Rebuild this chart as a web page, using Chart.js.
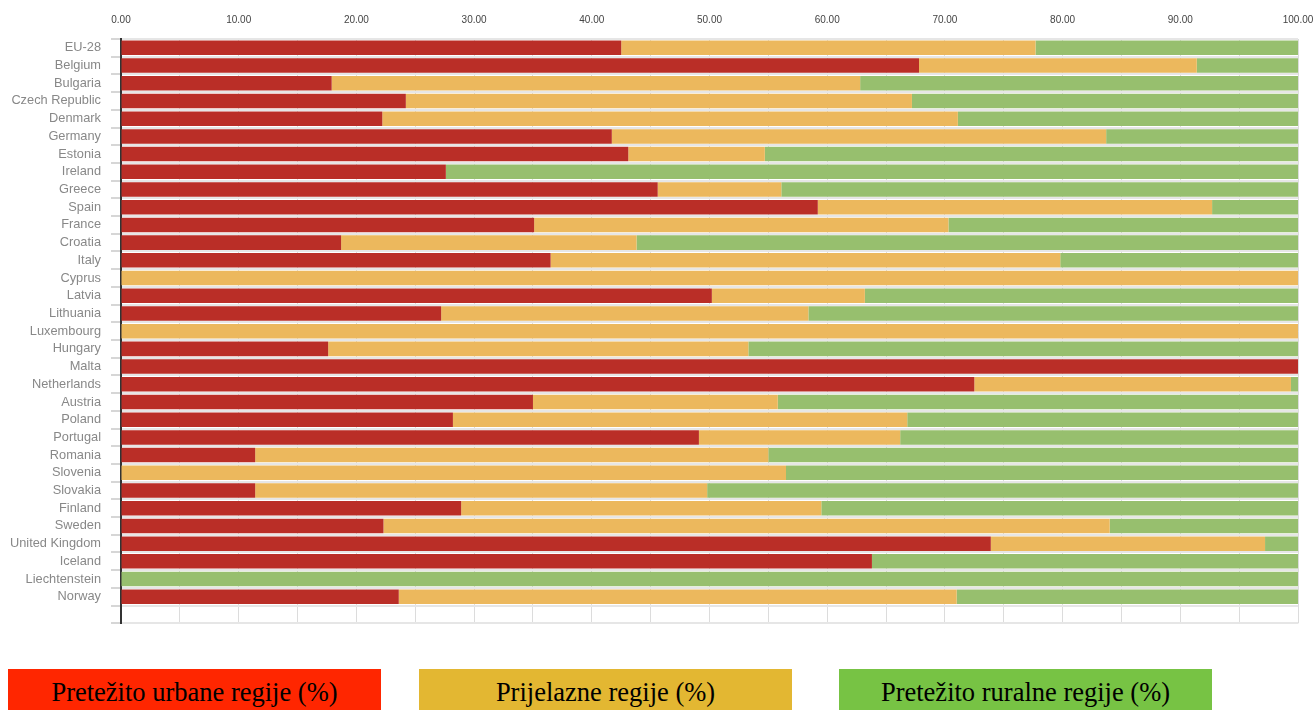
<!DOCTYPE html>
<html>
<head>
<meta charset="utf-8">
<script src="https://cdn.jsdelivr.net/npm/chart.js@4/dist/chart.umd.min.js"></script>
<style>
  html, body { margin: 0; padding: 0; background: #fff; overflow: hidden; }
  #wrap { position: absolute; left: 0; top: 0; width: 1315px; height: 641px; }
  .lg { position: absolute; top: 669px; height: 46px; width: 373px; font-family: "Liberation Serif", "Times New Roman", serif; font-size: 26.5px; color: #000; text-align: center; line-height: 46px; }
</style>
</head>
<body>
<div id="wrap"><canvas id="c" width="1315" height="641"></canvas></div>
<div class="lg" style="left:8px;background:#ff2600;">Pretežito urbane regije (%)</div>
<div class="lg" style="left:419px;background:#e3b732;">Prijelazne regije (%)</div>
<div class="lg" style="left:839px;background:#77c344;">Pretežito ruralne regije (%)</div>
<script>
const countries = ["EU-28","Belgium","Bulgaria","Czech Republic","Denmark","Germany","Estonia","Ireland","Greece","Spain","France","Croatia","Italy","Cyprus","Latvia","Lithuania","Luxembourg","Hungary","Malta","Netherlands","Austria","Poland","Portugal","Romania","Slovenia","Slovakia","Finland","Sweden","United Kingdom","Iceland","Liechtenstein","Norway"];
const urban = [42.5,67.8,17.9,24.2,22.2,41.7,43.1,27.6,45.6,59.2,35.1,18.7,36.5,0,50.2,27.2,0,17.6,100,72.5,35.0,28.2,49.1,11.4,0,11.4,28.9,22.3,73.9,63.8,0,23.6];
const intermediate = [35.2,23.6,44.9,43.0,48.9,42.0,11.6,0,10.5,33.5,35.2,25.1,43.3,100,13.0,31.2,100,35.7,0,26.9,20.8,38.6,17.1,43.6,56.5,38.4,30.6,61.7,23.3,0,0,47.4];
const rural = [22.3,8.6,37.2,32.8,28.9,16.3,45.3,72.4,43.9,7.3,29.7,56.2,20.2,0,36.8,41.6,0,46.7,0,0.6,44.2,33.2,33.8,45.0,43.5,50.2,40.5,16.0,2.8,36.2,100,29.0];
const seriesNames = ["Pretežito urbane regije (%)","Prijelazne regije (%)","Pretežito ruralne regije (%)"];
const tickStep = 5;
const axisMax = 100;

const ds = (label, data, color) => ({
  label, data, backgroundColor: color, borderWidth: 0,
  categoryPercentage: 1.0, barPercentage: 0.82
});

new Chart(document.getElementById('c'), {
  type: 'bar',
  data: {
    labels: countries.concat(['']),
    datasets: [
      ds(seriesNames[0], urban, '#ba2e27'),
      ds(seriesNames[1], intermediate, '#ecb85d'),
      ds(seriesNames[2], rural, '#97bf6e')
    ]
  },
  options: {
    indexAxis: 'y',
    responsive: false,
    animation: false,
    devicePixelRatio: 1,
    layout: { padding: { left: 0, right: 17, top: 0, bottom: 8 } },
    plugins: { legend: { display: false }, tooltip: { enabled: false } },
    scales: {
      x: {
        position: 'top',
        stacked: true,
        min: 0, max: axisMax,
        afterFit: s => { s.height = 39; s.paddingLeft = 0; s.paddingRight = 0; },
        border: { display: false },
        grid: { color: '#dcdcdc', lineWidth: 1, drawTicks: false },
        ticks: {
          stepSize: tickStep, autoSkip: false, maxRotation: 0, padding: 13,
          color: '#444', font: { family: 'Liberation Sans, Arial, sans-serif', size: 10 },
          callback: v => (v % 10 === 0 ? Number(v).toFixed(2) : '')
        }
      },
      y: {
        stacked: true,
        afterFit: s => { s.width = 121; },
        border: { display: true, color: '#333', width: 2 },
        grid: { color: '#e6e6e6', lineWidth: 2, tickLength: 10, tickColor: '#d6d6d6', offset: true },
        ticks: {
          padding: 10, autoSkip: false,
          color: '#888', font: { family: 'Liberation Sans, Arial, sans-serif', size: 12.8 }
        }
      }
    }
  }
});
</script>
</body>
</html>
